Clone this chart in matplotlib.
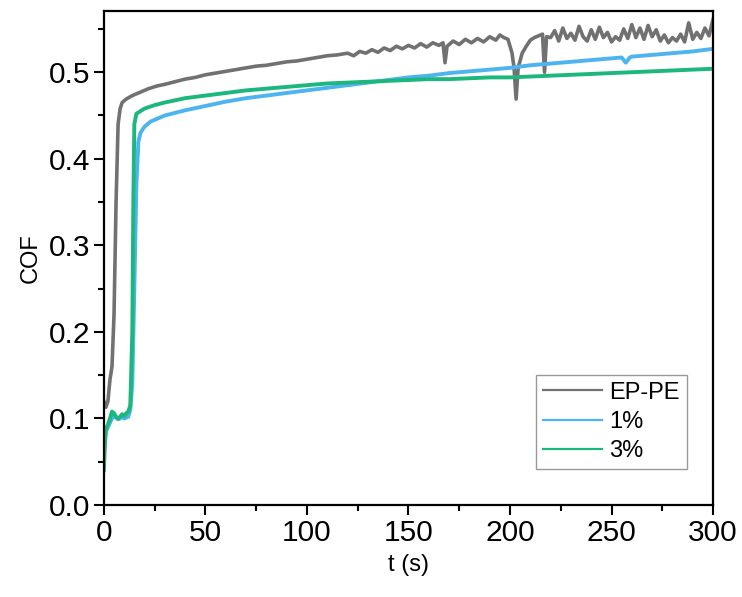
import matplotlib
matplotlib.use("Agg")
import matplotlib.pyplot as plt
from matplotlib.ticker import MultipleLocator

# EP-PE (grey)
t_ep = [0, 1, 2, 3, 4, 5, 6, 7, 8, 9, 11, 14, 18, 22, 26, 30, 35, 40, 45, 50,
        55, 60, 65, 70, 75, 80, 85, 90, 95, 100, 105, 110, 115,
        120, 123, 126, 129, 132, 135, 138, 141, 144, 147, 150, 153, 156, 159,
        162, 165, 167, 168, 169, 172, 175, 178, 181, 184, 187, 190, 193, 195,
        197, 199, 200, 201, 202, 203, 204, 206, 208, 210, 212, 214, 216, 217,
        218,
        220, 222, 224, 226, 228, 230, 232, 234, 236, 238, 240, 242, 244, 246,
        248, 250, 252, 254, 256, 258, 260, 262, 264, 266, 268, 270, 272, 274,
        276, 278, 280, 282, 284, 286, 288, 290, 292, 294, 296, 298, 300]
cof_ep = [0.12, 0.113, 0.12, 0.145, 0.16, 0.22, 0.35, 0.44, 0.458, 0.465, 0.469,
          0.473, 0.477, 0.481, 0.484, 0.486, 0.489, 0.492, 0.494, 0.497,
          0.499, 0.501, 0.503, 0.505, 0.507, 0.508, 0.510, 0.512, 0.513, 0.515,
          0.517, 0.519, 0.520,
          0.522, 0.519, 0.524, 0.522, 0.526, 0.523, 0.528, 0.525, 0.530, 0.527,
          0.531, 0.528, 0.533, 0.529, 0.534, 0.531, 0.534, 0.511, 0.530, 0.536,
          0.532, 0.538, 0.534, 0.539, 0.535, 0.541, 0.537, 0.543, 0.540, 0.538,
          0.530, 0.522, 0.505, 0.469, 0.505, 0.522, 0.530, 0.537, 0.540, 0.542,
          0.544, 0.500, 0.541,
          0.540, 0.548, 0.536, 0.551, 0.539, 0.545, 0.537, 0.553, 0.541, 0.536,
          0.549, 0.538, 0.552, 0.540, 0.546, 0.535, 0.541, 0.537, 0.550, 0.539,
          0.555, 0.540, 0.551, 0.538, 0.554, 0.541, 0.549, 0.536, 0.543, 0.534,
          0.540, 0.536, 0.544, 0.535, 0.557, 0.538, 0.546, 0.539, 0.551, 0.542,
          0.561]

# 1 % (blue)
t_1 = [0, 0.5, 1, 2, 3, 4, 5, 6, 7, 8, 9, 10, 11, 12, 13, 14, 15, 16, 17, 18,
       20, 23, 27, 30, 40, 50, 60, 70, 80, 90, 100, 110, 120, 130, 140, 150,
       160, 170, 180, 190, 200, 210, 220, 230, 240, 250, 255, 257, 259, 260,
       270, 280, 290, 300]
cof_1 = [0.06, 0.075, 0.085, 0.09, 0.095, 0.100, 0.103, 0.101, 0.099, 0.100,
         0.102, 0.100, 0.101, 0.102, 0.110, 0.140, 0.250, 0.370, 0.420, 0.430,
         0.437, 0.443, 0.447, 0.450, 0.456, 0.461, 0.466, 0.470, 0.473, 0.476,
         0.479, 0.482, 0.485, 0.488, 0.491, 0.494, 0.496, 0.499, 0.501, 0.503,
         0.505, 0.508, 0.510, 0.512, 0.514, 0.516, 0.517, 0.511, 0.517, 0.518,
         0.520, 0.522, 0.524, 0.527]

# 3 % (green)
t_3 = [0, 0.5, 1, 2, 3, 4, 5, 6, 7, 8, 9, 10, 11, 12, 13, 14, 14.5, 15, 16,
       18, 20, 25, 30, 40, 50, 60, 70, 80, 90, 100, 110, 120, 130, 140, 150,
       160, 170, 180, 190, 200, 210, 220, 230, 240, 250, 260, 270, 280, 290,
       300]
cof_3 = [0.04, 0.07, 0.088, 0.093, 0.100, 0.108, 0.106, 0.102, 0.100, 0.102,
         0.105, 0.103, 0.106, 0.108, 0.115, 0.200, 0.350, 0.440, 0.452, 0.455,
         0.458, 0.462, 0.465, 0.470, 0.473, 0.476, 0.479, 0.481, 0.483, 0.485,
         0.487, 0.488, 0.489, 0.490, 0.491, 0.492, 0.492, 0.493, 0.494, 0.494,
         0.495, 0.496, 0.497, 0.498, 0.499, 0.500, 0.501, 0.502, 0.503, 0.504]

plt.rcParams['font.family'] = ['Liberation Sans', 'DejaVu Sans']

fig = plt.figure(figsize=(7.42, 5.97), dpi=100)
ax = fig.add_axes([0.140, 0.154, 0.821, 0.828])

ax.plot(t_ep, cof_ep, color='#717171', lw=2.6, label='EP-PE')
ax.plot(t_1, cof_1, color='#4db4ef', lw=2.8, label='1%')
ax.plot(t_3, cof_3, color='#1bb77c', lw=2.8, label='3%')

ax.set_xlim(0, 300)
ax.set_ylim(0, 0.571)
ax.xaxis.set_major_locator(MultipleLocator(50))
ax.xaxis.set_minor_locator(MultipleLocator(25))
ax.yaxis.set_minor_locator(MultipleLocator(0.05))
ax.set_yticks([0, 0.1, 0.2, 0.3, 0.4, 0.5])
ax.set_yticklabels(['0.0', '0.1', '0.2', '0.3', '0.4', '0.5'])
ax.tick_params(which='major', direction='out', length=7, width=1.5, labelsize=21.5, pad=3)
ax.tick_params(which='minor', direction='out', length=4, width=1.5)
ax.tick_params(top=False, right=False)
for s in ax.spines.values():
    s.set_linewidth(1.6)

ax.set_xlabel('t (s)', fontsize=17, labelpad=5)
ax.set_ylabel('COF', fontsize=17, labelpad=5)

leg = ax.legend(loc='lower right', bbox_to_anchor=(0.957, 0.073), borderaxespad=0,
                fontsize=17, handlelength=2.5, handletextpad=0.3, labelspacing=0.3,
                fancybox=False, edgecolor='#999999', framealpha=1, borderpad=0.3)
for line in leg.get_lines():
    line.set_linewidth(1.6)

fig.savefig('out.png', dpi=100)
